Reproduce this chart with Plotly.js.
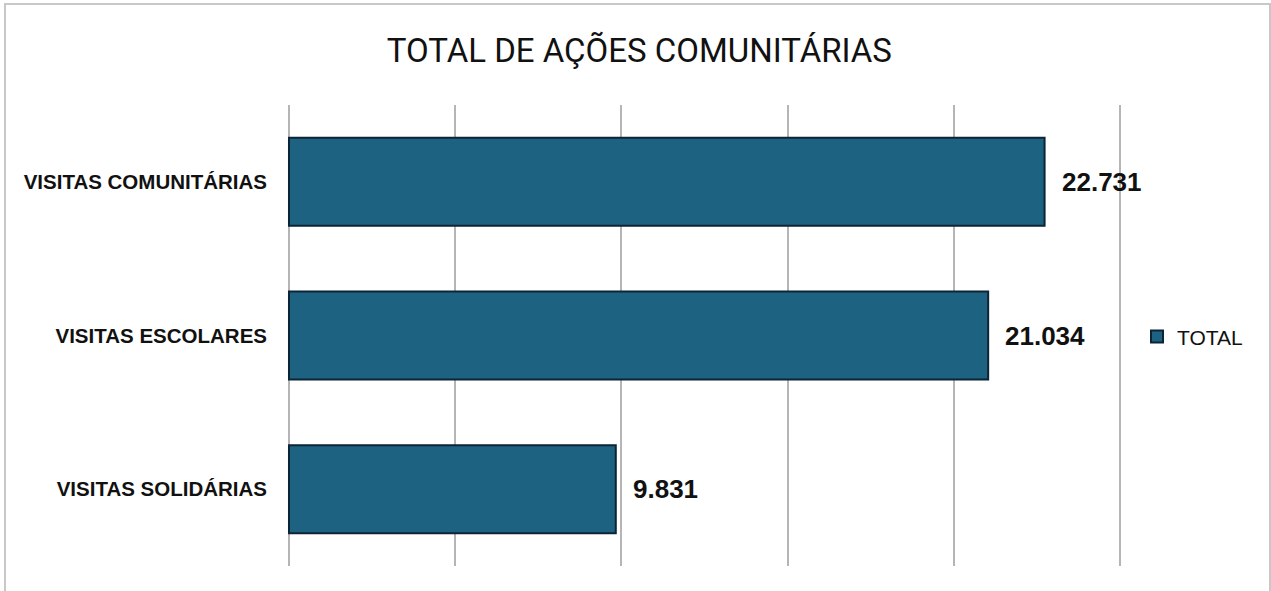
<!DOCTYPE html>
<html>
<head>
<meta charset="utf-8">
<script src="https://cdn.plot.ly/plotly-3.0.1.min.js"></script>
<style>
  html, body { margin: 0; padding: 0; background: #ffffff; }
  #wrap { position: relative; width: 1271px; height: 591px; overflow: hidden; }
  #chart { width: 1271px; height: 591px; }
  #frame { position: absolute; left: 4px; top: 3px; width: 1267px; height: 600px;
           border: 2px solid #c8c8c8; pointer-events: none; box-sizing: border-box; }
</style>
</head>
<body>
<div id="wrap">
  <div id="chart"></div>
  <div id="frame"></div>
</div>
<script>
// ---- data ----
const categories = ["VISITAS SOLIDÁRIAS", "VISITAS ESCOLARES", "VISITAS COMUNITÁRIAS"];
const totals = [9831, 21034, 22731];
const seriesName = "TOTAL";
const chartTitle = "TOTAL DE AÇÕES COMUNITÁRIAS";
const xTicks = [0, 5000, 10000, 15000, 20000, 25000];

const barColor = "#1e6282";
const edgeColor = "#0c2536";

const trace = {
  type: "bar",
  orientation: "h",
  name: seriesName,
  y: categories,
  x: totals,
  marker: { color: barColor, line: { color: edgeColor, width: 2 } },
  hoverinfo: "x+y",
  showlegend: true
};

const fmt = v => v.toLocaleString("de-DE");

const annotations = categories.map((c, i) => ({
  x: totals[i], y: c, xref: "x", yref: "y",
  text: fmt(totals[i]),
  showarrow: false, xanchor: "left", yanchor: "middle",
  xshift: 15,
  font: { family: "Liberation Sans, Arial, sans-serif", size: 26, color: "#111111", weight: "bold" }
}));

const layout = {
  width: 1271, height: 591,
  margin: { l: 287, r: 149, t: 105, b: 25, pad: 0, autoexpand: false },
  paper_bgcolor: "#ffffff",
  plot_bgcolor: "#ffffff",
  title: {
    text: chartTitle,
    x: 0.503, xanchor: "center",
    y: 0.915, yanchor: "middle",
    font: { family: "Roboto, Arial, sans-serif", size: 33, color: "#111111" }
  },
  bargap: 0.427,
  xaxis: {
    range: [-60, 25060],
    tickvals: xTicks,
    showticklabels: false,
    showgrid: true,
    gridcolor: "#b5b5b5",
    gridwidth: 2,
    zeroline: false,
    showline: false,
    fixedrange: true
  },
  yaxis: {
    type: "category",
    categoryorder: "array",
    categoryarray: categories,
    showgrid: false,
    zeroline: false,
    showline: false,
    ticks: "",
    ticklabelstandoff: 19,
    tickfont: { family: "Liberation Sans, Arial, sans-serif", size: 20.5, color: "#111111", weight: "bold" },
    fixedrange: true
  },
  legend: {
    x: 1.018, xanchor: "left",
    y: 0.497, yanchor: "middle",
    font: { family: "Liberation Sans, Arial, sans-serif", size: 21, color: "#111111" },
    itemwidth: 30,
    bgcolor: "rgba(0,0,0,0)"
  },
  annotations: annotations,
  showlegend: true
};

Plotly.newPlot("chart", [trace], layout, { displayModeBar: false, staticPlot: true });
</script>
</body>
</html>
